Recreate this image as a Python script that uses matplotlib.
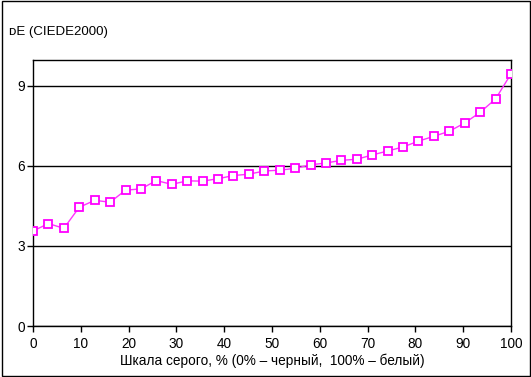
import matplotlib.pyplot as plt
from matplotlib.patches import Rectangle

# gray scale steps, 32 points from black to white
STEP_COUNT = 32
grey_percent = [i * 100 / (STEP_COUNT - 1) for i in range(STEP_COUNT)]
delta_e = [3.56, 3.84, 3.66, 4.45, 4.71, 4.64, 5.09, 5.14, 5.45, 5.31, 5.44,
           5.43, 5.52, 5.64, 5.69, 5.81, 5.84, 5.91, 6.04, 6.11, 6.21, 6.25,
           6.41, 6.56, 6.71, 6.93, 7.11, 7.30, 7.61, 8.01, 8.51, 9.45]
x_ticks = [0, 10, 20, 30, 40, 50, 60, 70, 80, 90, 100]
y_ticks = [0, 3, 6, 9]

TITLE = '\u1d05E (CIEDE2000)'
X_LABEL = 'Шкала серого, % (0% – черный,  100% – белый)'

W, H = 531, 377
FONT = ['Liberation Sans', 'DejaVu Sans']


def main():
    plt.rcParams['font.family'] = FONT
    fig = plt.figure(figsize=(W / 100, H / 100), dpi=100)
    ax = fig.add_axes([33 / W, 1 - 326 / H, (511 - 33) / W, (326 - 60) / H])

    ax.plot(grey_percent, delta_e, color='#ff33ff', linewidth=1.0,
            marker='s', markersize=6.2, markerfacecolor='white',
            markeredgecolor='#ff00ff', markeredgewidth=1.3, zorder=3)

    ax.set_xlim(0, 100)
    ax.set_ylim(0, 9.97)
    ax.set_xticks(x_ticks)
    ax.set_yticks(y_ticks)
    ax.tick_params(direction='out', length=4, width=1, labelsize=9.8,
                   colors='black', pad=2)
    ax.tick_params(axis='x', pad=4)
    ax.grid(axis='y', color='black', linewidth=1)
    ax.set_axisbelow(True)
    for spine in ax.spines.values():
        spine.set_linewidth(1)

    fig.text(9 / W, 1 - 32 / H, TITLE, fontsize=9.5, va='center', ha='left')
    fig.text(272 / W, 1 - 361 / H, X_LABEL, fontsize=9.8, va='center', ha='center')

    fig.patches.append(Rectangle((1.5 / W, 1.5 / H), (W - 3) / W, (H - 2.5) / H,
                                 transform=fig.transFigure, fill=False,
                                 edgecolor='black', linewidth=1))

    fig.savefig('out.png', dpi=100)


if __name__ == '__main__':
    main()
